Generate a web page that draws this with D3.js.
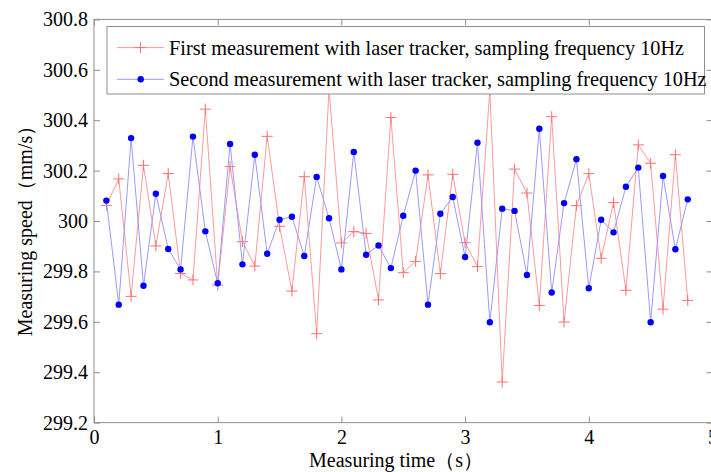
<!DOCTYPE html>
<html><head><meta charset="utf-8">
<script src="https://cdn.jsdelivr.net/npm/d3@7"></script>
<style>body{margin:0;background:#fff}svg{display:block}text{font-family:"Liberation Serif","Times New Roman",serif;fill:#000}</style>
</head><body>
<svg id="c" width="711" height="472"></svg>
<script>
const times = d3.range(1, 49).map(i => i / 10);
const firstSeries = [300.062,300.167,299.701,300.221,299.901,300.188,299.792,299.766,300.444,299.746,
300.216,299.918,299.821,300.336,299.979,299.722,300.176,299.553,300.524,299.913,
299.958,299.951,299.687,300.411,299.795,299.840,300.183,299.791,300.185,299.914,
299.819,300.519,299.361,300.206,300.111,299.665,300.414,299.599,300.061,300.188,
299.852,300.073,299.725,300.302,300.229,299.650,300.263,299.685];
const secondSeries = [300.081,299.668,300.329,299.743,300.108,299.889,299.808,300.335,299.959,299.753,
300.306,299.828,300.263,299.870,300.005,300.017,299.861,300.175,300.011,299.808,
300.274,299.866,299.903,299.813,300.021,300.200,299.668,300.029,300.095,299.857,
300.311,299.598,300.049,300.040,299.786,300.366,299.716,300.071,300.245,299.733,
300.005,299.955,300.136,300.212,299.598,300.179,299.888,300.086];
const xTicks = [0,1,2,3,4,5];
const yTicks = [299.2,299.4,299.6,299.8,300,300.2,300.4,300.6,300.8];
const legendLabels = ["First measurement with laser tracker, sampling frequency 10Hz",
                      "Second measurement with laser tracker, sampling frequency 10Hz"];
const xLabel = "Measuring time（s）";
const yLabel = "Measuring speed（mm/s）";

const svg = d3.select("#c");
const L = 94, R = 712.5, T = 19.4, B = 422.6;
const x = d3.scaleLinear().domain([0,5]).range([L,R]);
const y = d3.scaleLinear().domain([299.2,300.8]).range([B,T]);
const axisCol = "#8f8f8f";

svg.append("rect").attr("x",L).attr("y",T).attr("width",R-L).attr("height",B-T)
  .attr("fill","none").attr("stroke",axisCol).attr("stroke-width",1);

const fmt = d => (Math.round(d*10)/10).toString();
const gx = svg.append("g").attr("transform",`translate(0,${B})`)
  .call(d3.axisBottom(x).tickValues(xTicks).tickSize(-6).tickPadding(10).tickFormat(d3.format("d")));
const gxt = svg.append("g").attr("transform",`translate(0,${T})`)
  .call(d3.axisTop(x).tickValues(xTicks).tickSize(-6).tickFormat(""));
const gy = svg.append("g").attr("transform",`translate(${L},0)`)
  .call(d3.axisLeft(y).tickValues(yTicks).tickSize(-6).tickPadding(10).tickFormat(fmt));
const gyr = svg.append("g").attr("transform",`translate(${R},0)`)
  .call(d3.axisRight(y).tickValues(yTicks).tickSize(-6).tickFormat(""));
[gx,gxt,gy,gyr].forEach(g=>{
  g.attr("font-family",null).attr("font-size",null);
  g.select(".domain").remove();
  g.selectAll("line").attr("stroke",axisCol);
  g.selectAll("text").style("font-family",'"Liberation Serif",serif').style("font-size","20px").attr("fill","#000");
});
gx.selectAll("text").attr("dy","0.55em");
gy.selectAll("text").attr("dx","4px");

const line = d3.line().x((d,i)=>x(times[i])).y(d=>y(d));
svg.append("path").datum(firstSeries).attr("d",line).attr("fill","none").attr("stroke","#ff9a9a").attr("stroke-width",1);
svg.append("g").selectAll("path").data(firstSeries).join("path")
  .attr("d",(d,i)=>{const cx=x(times[i]),cy=y(d);return `M${cx-5.5},${cy}H${cx+5.5}M${cx},${cy-5.5}V${cy+5.5}`;})
  .attr("stroke","#ff7070").attr("stroke-width",1).attr("fill","none");
svg.append("path").datum(secondSeries).attr("d",line).attr("fill","none").attr("stroke","#9a9aff").attr("stroke-width",1);
svg.append("g").selectAll("circle").data(secondSeries).join("circle")
  .attr("cx",(d,i)=>x(times[i])).attr("cy",d=>y(d)).attr("r",3.2).attr("fill","#0000ff");

const lg = svg.append("g");
lg.append("rect").attr("x",107).attr("y",26.5).attr("width",597.5).attr("height",67.5)
  .attr("fill","#fff").attr("stroke",axisCol);
const ly = [47.6,79.3];
lg.append("line").attr("x1",117).attr("x2",164).attr("y1",ly[0]).attr("y2",ly[0]).attr("stroke","#ff9a9a");
lg.append("path").attr("d",`M135,${ly[0]}H146M140.5,${ly[0]-5.5}V${ly[0]+5.5}`).attr("stroke","#ff7070");
lg.append("line").attr("x1",117).attr("x2",164).attr("y1",ly[1]).attr("y2",ly[1]).attr("stroke","#9a9aff");
lg.append("circle").attr("cx",140.7).attr("cy",ly[1]).attr("r",3.2).attr("fill","#0000ff");
lg.selectAll("text.lt").data(legendLabels).join("text").attr("class","lt")
  .attr("x",169).attr("y",(d,i)=>ly[i]).attr("dy","0.35em").style("font-size","20.3px").text(d=>d);

svg.append("text").attr("x",396).attr("y",467).attr("text-anchor","middle").style("font-size","20px").text(xLabel);
svg.append("text").attr("transform","translate(32,226) rotate(-90)").attr("text-anchor","middle").style("font-size","20px").text(yLabel);
</script>
</body></html>
